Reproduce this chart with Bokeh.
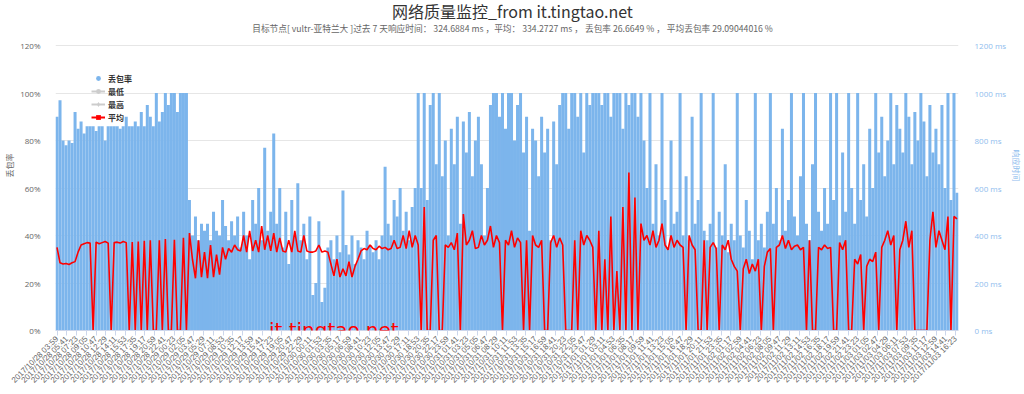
import math
import datetime as dt
from bokeh.plotting import figure
from bokeh.models import (Range1d, LinearAxis, FixedTicker, PrintfTickFormatter,
                          Label, Legend, LegendItem, Title)
from bokeh.embed import file_html
from bokeh.resources import INLINE

# ---------------- data ----------------
# packet loss rate (%) per sample
loss_rate = [
    # early high-loss stretch
    90, 97, 80, 78, 80, 79, 92, 85, 88, 83,
    86, 86, 86, 84, 86, 86, 80, 86, 86, 86,
    86, 85, 86, 90, 86, 86, 88, 86, 92, 86,
    95, 90, 86, 100, 88, 92, 100, 95, 100, 100,
    92, 100, 100, 100,
    # calmer stretch
    55, 40, 48, 38, 45,
    42, 45, 38, 50, 42, 40, 55, 44, 38, 46, 40, 48,
    35, 50, 40, 30, 55, 45, 60, 38, 77, 42, 50, 83, 45, 60, 35, 50, 28, 55, 40, 62, 38, 45, 30, 48,
    15, 20, 46, 12, 18,
    35, 38, 30, 40, 33, 59, 36, 32, 40, 28, 38, 35, 30, 42, 36, 33, 38, 30, 40,
    69, 45, 40, 55, 48, 60, 42, 50, 38, 52, 60,
    # spiky stretch
    100, 60, 100, 55, 95, 100, 70, 100, 65, 80, 40,
    85, 70, 90, 45, 88, 75, 92, 65, 80, 90, 70, 40, 60, 95, 100,
    100, 90, 100, 85, 100, 100, 80, 95, 100, 75, 90, 42, 85,
    80, 65, 90, 75, 85, 38, 88, 70, 95, 100,
    100, 85, 100, 100, 90, 100, 75, 100, 95, 100,
    100, 100, 95, 100, 100, 90, 100, 100, 100, 85, 100, 95, 100, 100, 90, 100, 80,
    # last stretch
    60, 100, 45, 70, 40, 100, 55, 35, 80, 45, 50, 100, 40, 65, 38, 90, 45, 55, 100, 42,
    38, 45, 100, 35, 50, 40, 70, 33, 45, 38, 100, 40, 35, 55, 42, 30, 100, 38, 45, 35,
    50, 100, 45, 60, 38, 85, 42, 55, 100, 48, 40, 65, 100, 45, 38, 70, 100, 50, 42, 60,
    45, 100, 55, 100, 40, 75, 50, 100, 60, 45, 100, 55, 70, 48, 85, 60, 100, 75, 90, 65,
    80, 100, 70, 95, 85, 75, 100, 90, 70, 92, 80, 100, 88, 65, 95, 75, 85, 70, 95, 60, 100, 55, 100, 58,
]

# average response time (ms) per sample, 0 = timeout
latency_ms = [
    350, 285, 280, 282, 278, 285, 290, 330, 360, 365,
    370, 368, 0, 372, 365, 370, 375, 368, 0, 370,
    372, 368, 375, 370, 0, 372, 0, 375, 0, 378,
    0, 380, 0, 0, 380, 0, 385, 0, 0, 382,
    0, 0, 390, 0,
    410, 300, 220, 380, 225, 330, 220, 360, 225, 320, 235, 350, 300, 345, 330, 360, 340,
    335, 400, 330, 420, 335, 380, 330, 440, 340, 400, 335, 410, 330, 390, 335, 330, 380, 330, 420, 335, 330, 400, 335, 330,
    330, 335, 360, 330, 335,
    330, 280, 230, 300, 225, 260, 230, 290, 225, 270, 300,
    335, 345, 340, 360, 345, 340, 355, 345, 350, 340, 345, 380, 345, 350, 400, 345, 420, 350, 400,
    360, 0, 520, 0, 0, 380, 400, 0, 0, 360,
    350, 370, 340, 410, 0, 490, 360, 380, 420, 345,
    350, 400, 360, 380, 440, 350, 400, 370, 0, 380,
    360, 420, 350, 390, 370, 0, 380, 0, 400, 360,
    350, 380, 0, 0, 370, 400, 350, 390, 360, 0,
    0, 0, 380, 0, 420, 360, 400, 380, 350,
    0, 420, 0, 300, 0, 480, 0, 250, 0, 520, 0, 665, 0, 560, 0, 450, 380,
    400, 360, 420, 350, 380, 450, 360, 340, 400, 350,
    380, 360, 350, 0, 400, 360, 340, 0, 0, 380,
    0, 350, 370, 345, 0, 360, 340, 380, 300, 270,
    250, 0, 260, 300, 240, 280, 250, 300, 0, 270,
    330, 345, 0, 350, 360, 400, 345, 380, 340, 355,
    360, 340, 350, 0, 380, 0, 0, 350, 340, 360,
    345, 350, 0, 0, 370, 340, 380, 0, 0, 300,
    280, 320, 0, 270, 300, 290, 330, 0, 350, 380,
    420, 360, 400, 0, 340, 380, 460, 350, 420, 0,
    0, 0, 0, 0, 380, 500, 350, 420, 380, 340,
    480, 0, 480, 470,
]

left_ticks = [0, 20, 40, 60, 80, 100, 120]
right_ticks = [0, 200, 400, 600, 800, 1000, 1200]

label_start = dt.datetime(2017, 10, 28, 3, 59)
tick_labels = [(label_start + dt.timedelta(minutes=102 * k)).strftime("%Y/%m/%d %H:%M")
               for k in range(93)]

legend_names = ["丢包率", "最低", "最高", "平均"]
title_text = "网络质量监控_from it.tingtao.net"
subtitle_text = ("目标节点[ vultr-亚特兰大 ]过去 7 天响应时间： 324.6884 ms ，平均： 334.2727 ms ，"
                 " 丢包率 26.6649 % ， 平均丢包率 29.09044016 %")
left_title = "丢包率"
right_title = "响应时间"
watermark = "it.tingtao.net"

# ---------------- figure ----------------
n = len(loss_rate)
x_loss = list(range(n))
x_lat = list(range(len(latency_ms)))

CJK = "Noto Sans CJK SC"
NUM = "Open Sans"
BLUE = "#7cb5ec"
LIGHT_BLUE = "#8fbdee"

# the plot frame reaches the top of the canvas; 120 % sits 45 px below it
FRAME_H = 330.0
PX_PER_PCT = (FRAME_H - 45.0) / 120.0
top_pct = FRAME_H / PX_PER_PCT
top_ms = top_pct * 10.0

p = figure(width=1024, height=394, x_range=Range1d(-0.5, n - 0.5), y_range=Range1d(0, top_pct),
           output_backend="svg", toolbar_location=None, title=None,
           min_border_left=55, min_border_right=66, min_border_top=0, min_border_bottom=64,
           background_fill_color="white", border_fill_color="white")
p.outline_line_color = None
p.xgrid.visible = False
p.extra_y_ranges = {"ms": Range1d(0, top_ms)}

# left axis
yax = p.yaxis[0]
yax.ticker = FixedTicker(ticks=left_ticks)
yax.formatter = PrintfTickFormatter(format="%d%%")
yax.axis_line_color = None
yax.major_tick_line_color = None
yax.minor_tick_line_color = None
yax.major_label_text_color = "#666666"
yax.major_label_text_font = NUM
yax.major_label_text_font_size = "8px"
yax.major_label_standoff = 9
p.ygrid.ticker = FixedTicker(ticks=left_ticks)
p.ygrid.grid_line_color = "#e6e6e6"

# right axis
rax = LinearAxis(y_range_name="ms", ticker=FixedTicker(ticks=right_ticks),
                 formatter=PrintfTickFormatter(format="%d ms"))
rax.axis_line_color = None
rax.major_tick_line_color = None
rax.minor_tick_line_color = None
rax.major_label_text_color = LIGHT_BLUE
rax.major_label_text_font = NUM
rax.major_label_text_font_size = "8px"
rax.major_label_standoff = 10
p.add_layout(rax, "right")

# axis titles, centred on the 0-120 % band rather than on the whole frame
shift = FRAME_H / 2 - (45.0 + FRAME_H) / 2
p.add_layout(Title(text=left_title, align="center", offset=shift, text_font=CJK,
                   text_font_size="8px", text_font_style="normal", text_color="#666666",
                   standoff=3, vertical_align="middle"), "left")
p.add_layout(Title(text=right_title, align="center", offset=-shift, text_font=CJK,
                   text_font_size="8px", text_font_style="normal", text_color=LIGHT_BLUE,
                   standoff=0, vertical_align="middle"), "right")

# bottom axis
tick_pos = [round(k * 3.245, 3) for k in range(len(tick_labels))]
xax = p.xaxis[0]
xax.ticker = FixedTicker(ticks=tick_pos)
xax.major_label_overrides = {tp: lab for tp, lab in zip(tick_pos, tick_labels)}
xax.major_label_orientation = math.pi / 4
xax.axis_line_color = "#ccd6eb"
xax.major_tick_line_color = "#ccd6eb"
xax.major_tick_out = 5
xax.major_tick_in = 0
xax.minor_tick_line_color = None
xax.major_label_text_color = "#666666"
xax.major_label_text_font = "Liberation Sans"
xax.major_label_text_font_size = "8px"
xax.major_label_standoff = 2

# data
p.vbar(x=x_loss, top=loss_rate, width=1.0, fill_color=BLUE, line_color=None)
p.line(x_lat, latency_ms, y_range_name="ms", line_color="#ff0000", line_width=1.6)

# legend (off-screen stand-ins so that the legend can draw its glyphs)
ox, oy = [-50, -49], [-50, -50]
r_loss = p.scatter(x=ox, y=oy, marker="circle", size=10, fill_color=BLUE, line_color=None)
r_min_l = p.line(x=ox, y=oy, line_color="#cccccc", line_width=2)
r_min_m = p.scatter(x=ox, y=oy, marker="circle", size=6, fill_color="#cccccc", line_color=None)
r_max_l = p.line(x=ox, y=oy, line_color="#cccccc", line_width=2)
r_max_m = p.scatter(x=ox, y=oy, marker="diamond", size=8, fill_color="#cccccc", line_color=None)
for r in (r_min_l, r_min_m, r_max_l, r_max_m):
    r.visible = False
r_avg_l = p.line(x=ox, y=oy, line_color="#ff0000", line_width=2)
r_avg_m = p.scatter(x=ox, y=oy, marker="square", size=7, fill_color="#ff0000", line_color=None)

legend = Legend(items=[
    LegendItem(label=legend_names[0], renderers=[r_loss]),
    LegendItem(label=legend_names[1], renderers=[r_min_l, r_min_m]),
    LegendItem(label=legend_names[2], renderers=[r_max_l, r_max_m]),
    LegendItem(label=legend_names[3], renderers=[r_avg_l, r_avg_m]),
], location=(36, 207), orientation="vertical")
legend.background_fill_alpha = 0
legend.border_line_color = None
legend.label_text_font = CJK
legend.label_text_font_size = "8px"
legend.label_text_font_style = "bold"
legend.label_text_color = "#333333"
legend.glyph_width = 14
legend.glyph_height = 12
legend.label_height = 12
legend.spacing = 1
legend.padding = 0
legend.margin = 0
legend.label_standoff = 3
legend.inactive_fill_color = "white"
legend.inactive_fill_alpha = 0.7
p.add_layout(legend)

# chart title and subtitle (inside the tall frame, above the 120 % line)
x_mid = (512 - 55) / ((958 - 55) / n) - 0.5
p.add_layout(Label(x=x_mid, y=(FRAME_H - 10.0) / PX_PER_PCT, text=title_text, text_align="center",
                   text_baseline="middle", text_font=CJK, text_font_size="16px",
                   text_color="#333333"))
p.add_layout(Label(x=x_mid, y=(FRAME_H - 28.0) / PX_PER_PCT, text=subtitle_text, text_align="center",
                   text_baseline="middle", text_font=CJK, text_font_size="8.7px",
                   text_color="#666666"))

# watermark
p.add_layout(Label(x=70.4, y=0.3, text=watermark, text_align="left", text_baseline="alphabetic",
                   text_font="DejaVu Sans", text_font_size="20px", text_color="#ff0000"))

open("out.html", "w").write(file_html(p, INLINE))
